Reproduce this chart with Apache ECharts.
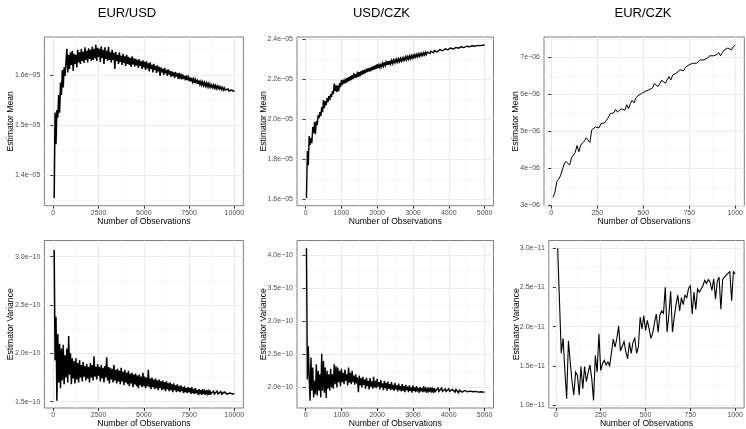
<!DOCTYPE html>
<html><head><meta charset="utf-8">
<script src="https://cdn.jsdelivr.net/npm/echarts@6/dist/echarts.min.js"></script>
<style>html,body{margin:0;padding:0;background:#fff}#c{width:746px;height:429px}</style>
</head><body><div id="c"></div>
<script>
const panelTitles = ['EUR/USD', 'USD/CZK', 'EUR/CZK'];
const xAxisTitle = 'Number of Observations';
const yTitleMean = 'Estimator Mean';
const yTitleVar = 'Estimator Variance';

// observation grid steps (n = step, 2*step, ...)
const eurUsdStep = 50, usdCzkStep = 25, eurCzkStep = 10;

const eurUsdMean = [
1.355e-5,1.525e-5,1.462e-5,1.530e-5,1.515e-5,1.560e-5,1.525e-5,1.585e-5,1.560e-5,1.610e-5,
1.575e-5,1.615e-5,1.598e-5,1.600e-5,1.652e-5,1.605e-5,1.640e-5,1.612e-5,1.645e-5,1.620e-5,
1.648e-5,1.608e-5,1.642e-5,1.622e-5,1.640e-5,1.615e-5,1.650e-5,1.625e-5,1.645e-5,1.622e-5,
1.652e-5,1.628e-5,1.646e-5,1.624e-5,1.655e-5,1.630e-5,1.648e-5,1.625e-5,1.653e-5,1.632e-5,
1.650e-5,1.628e-5,1.656e-5,1.630e-5,1.652e-5,1.633e-5,1.660e-5,1.628e-5,1.654e-5,1.636e-5,
1.652e-5,1.626e-5,1.657e-5,1.634e-5,1.650e-5,1.622e-5,1.655e-5,1.632e-5,1.648e-5,1.628e-5,
1.656e-5,1.630e-5,1.645e-5,1.625e-5,1.650e-5,1.630e-5,1.644e-5,1.612e-5,1.646e-5,1.628e-5,
1.640e-5,1.622e-5,1.645e-5,1.626e-5,1.638e-5,1.620e-5,1.642e-5,1.624e-5,1.637e-5,1.618e-5,
1.640e-5,1.622e-5,1.636e-5,1.620e-5,1.634e-5,1.616e-5,1.637e-5,1.621e-5,1.633e-5,1.617e-5,
1.632e-5,1.619e-5,1.630e-5,1.614e-5,1.631e-5,1.618e-5,1.627e-5,1.612e-5,1.629e-5,1.615e-5,
1.626e-5,1.610e-5,1.627e-5,1.613e-5,1.623e-5,1.607e-5,1.625e-5,1.612e-5,1.620e-5,1.605e-5,
1.622e-5,1.610e-5,1.618e-5,1.604e-5,1.619e-5,1.607e-5,1.616e-5,1.598e-5,1.615e-5,1.605e-5,
1.612e-5,1.600e-5,1.614e-5,1.603e-5,1.610e-5,1.598e-5,1.611e-5,1.601e-5,1.608e-5,1.596e-5,
1.607e-5,1.598e-5,1.605e-5,1.594e-5,1.606e-5,1.597e-5,1.603e-5,1.592e-5,1.604e-5,1.595e-5,
1.600e-5,1.591e-5,1.601e-5,1.592e-5,1.598e-5,1.589e-5,1.599e-5,1.590e-5,1.596e-5,1.588e-5,
1.595e-5,1.587e-5,1.594e-5,1.586e-5,1.592e-5,1.584e-5,1.591e-5,1.585e-5,1.589e-5,1.582e-5,
1.589e-5,1.581e-5,1.587e-5,1.580e-5,1.586e-5,1.579e-5,1.585e-5,1.578e-5,1.584e-5,1.577e-5,
1.583e-5,1.576e-5,1.582e-5,1.576e-5,1.580e-5,1.575e-5,1.580e-5,1.574e-5,1.579e-5,1.573e-5,
1.578e-5,1.573e-5,1.577e-5,1.572e-5,1.576e-5,1.571e-5,1.575e-5,1.570e-5,1.574e-5,1.570e-5,
1.573e-5,1.569e-5,1.572e-5,1.568e-5,1.571e-5,1.568e-5,1.570e-5,1.567e-5,1.569e-5,1.567e-5];

const usdCzkMean = [
1.605e-5,1.840e-5,1.770e-5,1.915e-5,1.870e-5,1.905e-5,1.880e-5,1.960e-5,1.930e-5,1.985e-5,
1.925e-5,1.990e-5,1.970e-5,2.020e-5,2.005e-5,2.035e-5,2.015e-5,2.060e-5,2.035e-5,2.095e-5,
2.055e-5,2.090e-5,2.070e-5,2.105e-5,2.085e-5,2.115e-5,2.095e-5,2.125e-5,2.110e-5,2.140e-5,
2.125e-5,2.178e-5,2.140e-5,2.170e-5,2.135e-5,2.168e-5,2.140e-5,2.180e-5,2.160e-5,2.195e-5,
2.170e-5,2.198e-5,2.178e-5,2.196e-5,2.180e-5,2.205e-5,2.185e-5,2.210e-5,2.192e-5,2.215e-5,
2.195e-5,2.220e-5,2.200e-5,2.230e-5,2.205e-5,2.225e-5,2.208e-5,2.238e-5,2.212e-5,2.235e-5,
2.215e-5,2.240e-5,2.222e-5,2.245e-5,2.225e-5,2.248e-5,2.230e-5,2.252e-5,2.235e-5,2.255e-5,
2.238e-5,2.258e-5,2.240e-5,2.262e-5,2.245e-5,2.265e-5,2.248e-5,2.270e-5,2.252e-5,2.275e-5,
2.255e-5,2.272e-5,2.258e-5,2.278e-5,2.262e-5,2.280e-5,2.265e-5,2.284e-5,2.268e-5,2.286e-5,
2.270e-5,2.290e-5,2.272e-5,2.292e-5,2.276e-5,2.294e-5,2.278e-5,2.296e-5,2.282e-5,2.298e-5,
2.284e-5,2.300e-5,2.286e-5,2.302e-5,2.288e-5,2.304e-5,2.290e-5,2.306e-5,2.293e-5,2.308e-5,
2.295e-5,2.312e-5,2.298e-5,2.313e-5,2.300e-5,2.316e-5,2.302e-5,2.318e-5,2.305e-5,2.320e-5,
2.307e-5,2.322e-5,2.310e-5,2.324e-5,2.312e-5,2.326e-5,2.314e-5,2.328e-5,2.317e-5,2.330e-5,
2.319e-5,2.332e-5,2.321e-5,2.334e-5,2.323e-5,2.336e-5,2.326e-5,2.338e-5,2.328e-5,2.340e-5,
2.330e-5,2.341e-5,2.332e-5,2.343e-5,2.334e-5,2.345e-5,2.336e-5,2.346e-5,2.338e-5,2.348e-5,
2.340e-5,2.349e-5,2.342e-5,2.351e-5,2.343e-5,2.352e-5,2.345e-5,2.354e-5,2.347e-5,2.355e-5,
2.348e-5,2.356e-5,2.350e-5,2.357e-5,2.351e-5,2.358e-5,2.352e-5,2.359e-5,2.354e-5,2.360e-5,
2.355e-5,2.361e-5,2.356e-5,2.362e-5,2.357e-5,2.363e-5,2.358e-5,2.364e-5,2.360e-5,2.365e-5,
2.361e-5,2.365e-5,2.362e-5,2.366e-5,2.363e-5,2.367e-5,2.364e-5,2.368e-5,2.365e-5,2.368e-5,
2.366e-5,2.369e-5,2.367e-5,2.369e-5,2.368e-5,2.370e-5,2.369e-5,2.370e-5,2.370e-5,2.371e-5];

const eurCzkMean = [
3.22e-6,3.36e-6,3.64e-6,3.71e-6,3.80e-6,3.76e-6,4.12e-6,4.19e-6,4.21e-6,4.09e-6,
4.29e-6,4.31e-6,4.43e-6,4.62e-6,4.45e-6,4.63e-6,4.67e-6,4.74e-6,4.83e-6,4.79e-6,
4.70e-6,5.04e-6,5.05e-6,5.12e-6,5.08e-6,5.10e-6,5.21e-6,5.19e-6,5.23e-6,5.30e-6,
5.37e-6,5.48e-6,5.46e-6,5.50e-6,5.59e-6,5.52e-6,5.55e-6,5.61e-6,5.66e-6,5.57e-6,
5.72e-6,5.61e-6,5.75e-6,5.84e-6,5.77e-6,5.90e-6,5.96e-6,5.98e-6,6.02e-6,6.04e-6,
6.08e-6,6.11e-6,6.12e-6,6.08e-6,6.17e-6,6.29e-6,6.32e-6,6.21e-6,6.29e-6,6.38e-6,
6.41e-6,6.30e-6,6.39e-6,6.48e-6,6.39e-6,6.52e-6,6.48e-6,6.57e-6,6.61e-6,6.66e-6,
6.68e-6,6.64e-6,6.73e-6,6.72e-6,6.80e-6,6.77e-6,6.84e-6,6.82e-6,6.84e-6,6.88e-6,
6.93e-6,6.91e-6,6.93e-6,6.95e-6,6.98e-6,7.04e-6,7.05e-6,7.04e-6,7.09e-6,7.07e-6,
7.13e-6,7.04e-6,7.13e-6,7.20e-6,7.22e-6,7.25e-6,7.24e-6,7.20e-6,7.29e-6,7.33e-6];

const eurUsdVar = [
3.07e-10,1.93e-10,2.38e-10,1.51e-10,2.20e-10,1.70e-10,2.10e-10,1.64e-10,2.05e-10,1.72e-10,
2.09e-10,1.68e-10,1.98e-10,1.75e-10,2.05e-10,1.70e-10,2.18e-10,1.78e-10,2.00e-10,1.68e-10,
1.95e-10,1.74e-10,1.92e-10,1.69e-10,1.95e-10,1.73e-10,1.90e-10,1.70e-10,1.93e-10,1.75e-10,
1.88e-10,1.71e-10,1.91e-10,1.76e-10,1.87e-10,1.72e-10,1.89e-10,1.74e-10,1.86e-10,1.70e-10,
1.90e-10,1.75e-10,1.88e-10,1.72e-10,1.97e-10,1.76e-10,1.86e-10,1.73e-10,1.89e-10,1.77e-10,
1.86e-10,1.71e-10,1.88e-10,1.74e-10,1.85e-10,1.70e-10,1.87e-10,1.75e-10,1.96e-10,1.72e-10,
1.86e-10,1.69e-10,1.85e-10,1.73e-10,1.84e-10,1.70e-10,1.88e-10,1.72e-10,1.83e-10,1.69e-10,
1.84e-10,1.71e-10,1.82e-10,1.68e-10,1.85e-10,1.71e-10,1.81e-10,1.67e-10,1.83e-10,1.70e-10,
1.80e-10,1.68e-10,1.82e-10,1.66e-10,1.79e-10,1.69e-10,1.80e-10,1.65e-10,1.78e-10,1.68e-10,
1.79e-10,1.66e-10,1.77e-10,1.64e-10,1.78e-10,1.67e-10,1.76e-10,1.65e-10,1.80e-10,1.66e-10,
1.76e-10,1.64e-10,1.75e-10,1.66e-10,1.83e-10,1.65e-10,1.74e-10,1.63e-10,1.75e-10,1.65e-10,
1.73e-10,1.63e-10,1.74e-10,1.64e-10,1.72e-10,1.62e-10,1.73e-10,1.64e-10,1.71e-10,1.62e-10,
1.72e-10,1.63e-10,1.70e-10,1.61e-10,1.71e-10,1.63e-10,1.69e-10,1.61e-10,1.70e-10,1.62e-10,
1.68e-10,1.60e-10,1.69e-10,1.62e-10,1.67e-10,1.60e-10,1.68e-10,1.61e-10,1.66e-10,1.60e-10,
1.67e-10,1.61e-10,1.65e-10,1.59e-10,1.66e-10,1.60e-10,1.64e-10,1.59e-10,1.65e-10,1.60e-10,
1.64e-10,1.58e-10,1.65e-10,1.59e-10,1.63e-10,1.58e-10,1.64e-10,1.59e-10,1.62e-10,1.57e-10,
1.63e-10,1.59e-10,1.62e-10,1.57e-10,1.63e-10,1.58e-10,1.61e-10,1.57e-10,1.62e-10,1.58e-10,
1.61e-10,1.57e-10,1.62e-10,1.58e-10,1.60e-10,1.57e-10,1.61e-10,1.58e-10,1.60e-10,1.57e-10,
1.61e-10,1.58e-10,1.60e-10,1.575e-10,1.605e-10,1.58e-10,1.60e-10,1.575e-10,1.60e-10,1.58e-10,
1.595e-10,1.578e-10,1.594e-10,1.58e-10,1.59e-10,1.58e-10,1.588e-10,1.58e-10,1.586e-10,1.582e-10];

const usdCzkVar = [
4.10e-10,2.12e-10,2.62e-10,2.15e-10,1.80e-10,2.45e-10,1.95e-10,2.30e-10,1.85e-10,2.10e-10,
1.90e-10,2.35e-10,1.88e-10,2.25e-10,1.95e-10,2.20e-10,1.85e-10,2.51e-10,1.95e-10,2.40e-10,
1.92e-10,2.30e-10,1.84e-10,2.25e-10,1.98e-10,2.20e-10,1.95e-10,2.28e-10,2.00e-10,2.20e-10,
1.98e-10,2.35e-10,2.05e-10,2.32e-10,2.00e-10,2.30e-10,2.08e-10,2.25e-10,2.02e-10,2.28e-10,
2.08e-10,2.22e-10,2.05e-10,2.27e-10,2.10e-10,2.20e-10,2.03e-10,2.30e-10,2.07e-10,2.22e-10,
2.05e-10,2.25e-10,2.08e-10,2.18e-10,2.04e-10,2.20e-10,2.06e-10,2.15e-10,1.93e-10,2.18e-10,
2.03e-10,2.14e-10,2.00e-10,2.16e-10,2.04e-10,2.12e-10,1.98e-10,2.15e-10,2.02e-10,2.10e-10,
1.97e-10,2.14e-10,2.01e-10,2.09e-10,1.98e-10,2.16e-10,2.00e-10,2.10e-10,1.99e-10,2.13e-10,
2.01e-10,2.08e-10,1.97e-10,2.11e-10,2.00e-10,2.06e-10,1.96e-10,2.10e-10,1.99e-10,2.07e-10,
1.95e-10,2.09e-10,1.98e-10,2.05e-10,1.96e-10,2.08e-10,1.97e-10,2.04e-10,1.95e-10,2.07e-10,
1.97e-10,2.03e-10,1.94e-10,2.06e-10,1.96e-10,2.02e-10,1.94e-10,2.05e-10,1.95e-10,2.02e-10,
1.93e-10,2.04e-10,1.96e-10,2.01e-10,1.93e-10,2.03e-10,1.95e-10,2.00e-10,1.92e-10,2.03e-10,
1.95e-10,2.00e-10,1.93e-10,2.02e-10,1.94e-10,1.99e-10,1.92e-10,2.01e-10,1.94e-10,1.99e-10,
1.93e-10,2.02e-10,1.94e-10,1.98e-10,1.92e-10,2.00e-10,1.94e-10,1.98e-10,1.93e-10,2.00e-10,
1.94e-10,1.98e-10,1.92e-10,1.99e-10,1.94e-10,1.97e-10,1.93e-10,1.99e-10,1.94e-10,1.97e-10,
1.93e-10,1.99e-10,1.94e-10,1.97e-10,1.93e-10,1.98e-10,1.94e-10,1.96e-10,1.93e-10,1.98e-10,
1.94e-10,1.96e-10,1.93e-10,1.97e-10,1.94e-10,1.96e-10,1.93e-10,1.97e-10,1.94e-10,1.96e-10,
1.92e-10,1.96e-10,1.94e-10,1.955e-10,1.93e-10,1.96e-10,1.935e-10,1.955e-10,1.93e-10,1.95e-10,
1.935e-10,1.95e-10,1.93e-10,1.945e-10,1.93e-10,1.945e-10,1.935e-10,1.94e-10,1.93e-10,1.94e-10,
1.932e-10,1.94e-10,1.93e-10,1.938e-10,1.93e-10,1.935e-10,1.93e-10,1.933e-10,1.93e-10,1.93e-10];

const eurCzkVar = [
3.00e-11,2.33e-11,1.66e-11,1.85e-11,1.45e-11,1.08e-11,1.82e-11,1.55e-11,1.30e-11,1.13e-11,
1.42e-11,1.38e-11,1.13e-11,1.49e-11,1.21e-11,1.49e-11,1.30e-11,1.42e-11,1.51e-11,1.34e-11,
1.06e-11,1.63e-11,1.42e-11,1.91e-11,1.44e-11,1.53e-11,1.57e-11,1.51e-11,1.55e-11,1.50e-11,
1.52e-11,1.84e-11,1.74e-11,1.85e-11,2.01e-11,1.69e-11,1.70e-11,1.81e-11,1.68e-11,1.59e-11,
1.80e-11,1.66e-11,1.80e-11,1.85e-11,1.66e-11,1.74e-11,2.12e-11,1.97e-11,2.14e-11,1.95e-11,
2.08e-11,1.97e-11,1.85e-11,1.92e-11,2.05e-11,2.16e-11,1.93e-11,2.15e-11,2.20e-11,2.17e-11,
2.50e-11,1.93e-11,2.15e-11,2.45e-11,1.93e-11,2.12e-11,2.28e-11,2.40e-11,2.20e-11,2.37e-11,
2.28e-11,2.40e-11,2.37e-11,2.49e-11,2.52e-11,2.16e-11,2.44e-11,2.22e-11,2.48e-11,2.44e-11,
2.48e-11,2.52e-11,2.59e-11,2.55e-11,2.60e-11,2.57e-11,2.46e-11,2.61e-11,2.35e-11,2.58e-11,
2.63e-11,2.22e-11,2.60e-11,2.62e-11,2.66e-11,2.68e-11,2.70e-11,2.33e-11,2.70e-11,2.67e-11];

// tick values and labels
const xTicks10k = [0, 2500, 5000, 7500, 10000];
const xMinor10k = [1250, 3750, 6250, 8750];
const xTicks5k = [0, 1000, 2000, 3000, 4000, 5000];
const xMinor5k = [500, 1500, 2500, 3500, 4500];
const xTicks1k = [0, 250, 500, 750, 1000];
const xMinor1k = [125, 375, 625, 875];

const yTicksP1 = [1.4e-5, 1.5e-5, 1.6e-5];
const yLabelsP1 = ['1.4e\u221205', '1.5e\u221205', '1.6e\u221205'];
const yMinorP1 = [1.35e-5, 1.45e-5, 1.55e-5, 1.65e-5];
const yTicksP2 = [1.6e-5, 1.8e-5, 2.0e-5, 2.2e-5, 2.4e-5];
const yLabelsP2 = ['1.6e\u221205', '1.8e\u221205', '2.0e\u221205', '2.2e\u221205', '2.4e\u221205'];
const yMinorP2 = [1.7e-5, 1.9e-5, 2.1e-5, 2.3e-5];
const yTicksP3 = [3e-6, 4e-6, 5e-6, 6e-6, 7e-6];
const yLabelsP3 = ['3e\u221206', '4e\u221206', '5e\u221206', '6e\u221206', '7e\u221206'];
const yMinorP3 = [3.5e-6, 4.5e-6, 5.5e-6, 6.5e-6, 7.5e-6];
const yTicksP4 = [1.5e-10, 2.0e-10, 2.5e-10, 3.0e-10];
const yLabelsP4 = ['1.5e\u221210', '2.0e\u221210', '2.5e\u221210', '3.0e\u221210'];
const yMinorP4 = [1.75e-10, 2.25e-10, 2.75e-10];
const yTicksP5 = [2.0e-10, 2.5e-10, 3.0e-10, 3.5e-10, 4.0e-10];
const yLabelsP5 = ['2.0e\u221210', '2.5e\u221210', '3.0e\u221210', '3.5e\u221210', '4.0e\u221210'];
const yMinorP5 = [2.25e-10, 2.75e-10, 3.25e-10, 3.75e-10];
const yTicksP6 = [1.0e-11, 1.5e-11, 2.0e-11, 2.5e-11, 3.0e-11];
const yLabelsP6 = ['1.0e\u221211', '1.5e\u221211', '2.0e\u221211', '2.5e\u221211', '3.0e\u221211'];
const yMinorP6 = [1.25e-11, 1.75e-11, 2.25e-11, 2.75e-11];

const FONT = "'Liberation Sans', Arial, Helvetica, sans-serif";

const panels = [
  {grid:{left:44.4, top:37, width:199, height:168.7}, step:eurUsdStep, y:eurUsdMean, lw:1.5,
   xr:[-490,10500], xt:xTicks10k, xm:xMinor10k, yr:[1.3398e-5,1.6755e-5], yt:yTicksP1, yl:yLabelsP1, ym:yMinorP1, yName:yTitleMean, gap:29},
  {grid:{left:297, top:37, width:196.5, height:168.7}, step:usdCzkStep, y:usdCzkMean, lw:1.4,
   xr:[-240,5250], xt:xTicks5k, xm:xMinor5k, yr:[1.567e-5,2.411e-5], yt:yTicksP2, yl:yLabelsP2, ym:yMinorP2, yName:yTitleMean, gap:28.7},
  {grid:{left:544, top:37, width:202, height:168.7}, step:eurCzkStep, y:eurCzkMean, lw:1,
   xr:[-39.5,1049.5], xt:xTicks1k, xm:xMinor1k, yr:[2.995e-6,7.548e-6], yt:yTicksP3, yl:yLabelsP3, ym:yMinorP3, yName:yTitleMean, gap:23.7},
  {grid:{left:44.4, top:240.5, width:199, height:167.5}, step:eurUsdStep, y:eurUsdVar, lw:1.5,
   xr:[-490,10500], xt:xTicks10k, xm:xMinor10k, yr:[1.435e-10,3.168e-10], yt:yTicksP4, yl:yLabelsP4, ym:yMinorP4, yName:yTitleVar, gap:29},
  {grid:{left:297, top:240.5, width:196.5, height:167.5}, step:usdCzkStep, y:usdCzkVar, lw:1.4,
   xr:[-240,5250], xt:xTicks5k, xm:xMinor5k, yr:[1.69e-10,4.217e-10], yt:yTicksP5, yl:yLabelsP5, ym:yMinorP5, yName:yTitleVar, gap:28.7},
  {grid:{left:548.8, top:240.5, width:198.6, height:167.5}, step:eurCzkStep, y:eurCzkVar, lw:1.1,
   xr:[-39.5,1049.5], xt:xTicks1k, xm:xMinor1k, yr:[0.963e-11,3.097e-11], yt:yTicksP6, yl:yLabelsP6, ym:yMinorP6, yName:yTitleVar, gap:27.8}
];
const titleX = [127, 381.5, 643];

function labelFor(ticks, labels) {
  return function (v) {
    for (let i = 0; i < ticks.length; i++) {
      if (Math.abs(ticks[i] - v) <= Math.abs(ticks[i]) * 1e-6 + 1e-30) return labels[i];
    }
    return '';
  };
}

const option = {
  animation: false,
  backgroundColor: '#ffffff',
  grid: [], xAxis: [], yAxis: [], series: [],
  graphic: panelTitles.map((t, i) => ({
    type: 'text', x: titleX[i], y: 13,
    style: {text: t, fontSize: 13, fill: '#000', font: '13px ' + FONT,
            align: 'center', verticalAlign: 'middle', textAlign: 'center', textVerticalAlign: 'middle'}
  }))
};

panels.forEach((p, i) => {
  option.grid.push(Object.assign({show: true, borderColor: '#7f7f7f', borderWidth: 1, backgroundColor: '#fff', containLabel: false}, p.grid));
  const minorLine = {show: true, lineStyle: {color: '#f4f4f4', width: 0.7}};
  const majorLine = {show: true, lineStyle: {color: '#ebebeb', width: 1.2}};
  option.xAxis.push({
    type: 'value', gridIndex: i, min: p.xr[0], max: p.xr[1], position: 'bottom',
    axisLine: {show: false},
    axisTick: {show: true, customValues: p.xt, length: 3, inside: false, lineStyle: {color: '#333', width: 1}},
    axisLabel: {show: true, customValues: p.xt, margin: 4, fontSize: 7, color: '#4d4d4d', fontFamily: FONT,
                showMinLabel: true, showMaxLabel: true, hideOverlap: false, formatter: v => String(Math.round(v))},
    splitLine: Object.assign({customValues: p.xt}, majorLine),
    name: xAxisTitle, nameLocation: 'middle', nameGap: 11, nameMoveOverlap: false,
    nameTextStyle: {fontSize: 8.6, color: '#000', fontFamily: FONT}
  });
  option.xAxis.push({
    type: 'value', gridIndex: i, min: p.xr[0], max: p.xr[1], position: 'top',
    axisLine: {show: false},
    axisTick: {show: false, customValues: p.xm},
    axisLabel: {show: false, customValues: p.xm},
    splitLine: Object.assign({customValues: p.xm}, minorLine)
  });
  option.yAxis.push({
    type: 'value', gridIndex: i, min: p.yr[0], max: p.yr[1], position: 'left',
    axisLine: {show: false},
    axisTick: {show: true, customValues: p.yt, length: 3, lineStyle: {color: '#333', width: 1}},
    axisLabel: {show: true, customValues: p.yt, margin: 4, fontSize: 7, color: '#4d4d4d', fontFamily: FONT,
                showMinLabel: true, showMaxLabel: true, hideOverlap: false, formatter: labelFor(p.yt, p.yl)},
    splitLine: Object.assign({customValues: p.yt}, majorLine),
    name: p.yName, nameLocation: 'middle', nameGap: p.gap, nameMoveOverlap: false,
    nameTextStyle: {fontSize: 8.6, color: '#000', fontFamily: FONT}
  });
  option.yAxis.push({
    type: 'value', gridIndex: i, min: p.yr[0], max: p.yr[1], position: 'right',
    axisLine: {show: false},
    axisTick: {show: false, customValues: p.ym},
    axisLabel: {show: false, customValues: p.ym},
    splitLine: Object.assign({customValues: p.ym}, minorLine)
  });
  option.series.push({
    type: 'line', xAxisIndex: 2 * i, yAxisIndex: 2 * i,
    data: p.y.map((v, k) => [(k + 1) * p.step, v]),
    symbol: 'none', showSymbol: false, silent: true, z: 5,
    lineStyle: {color: '#000', width: p.lw, join: 'miter', miterLimit: 4},
    emphasis: {disabled: true}
  });
});

const chart = echarts.init(document.getElementById('c'), null, {renderer: 'canvas', width: 746, height: 429});
chart.setOption(option);
</script>
</body></html>
